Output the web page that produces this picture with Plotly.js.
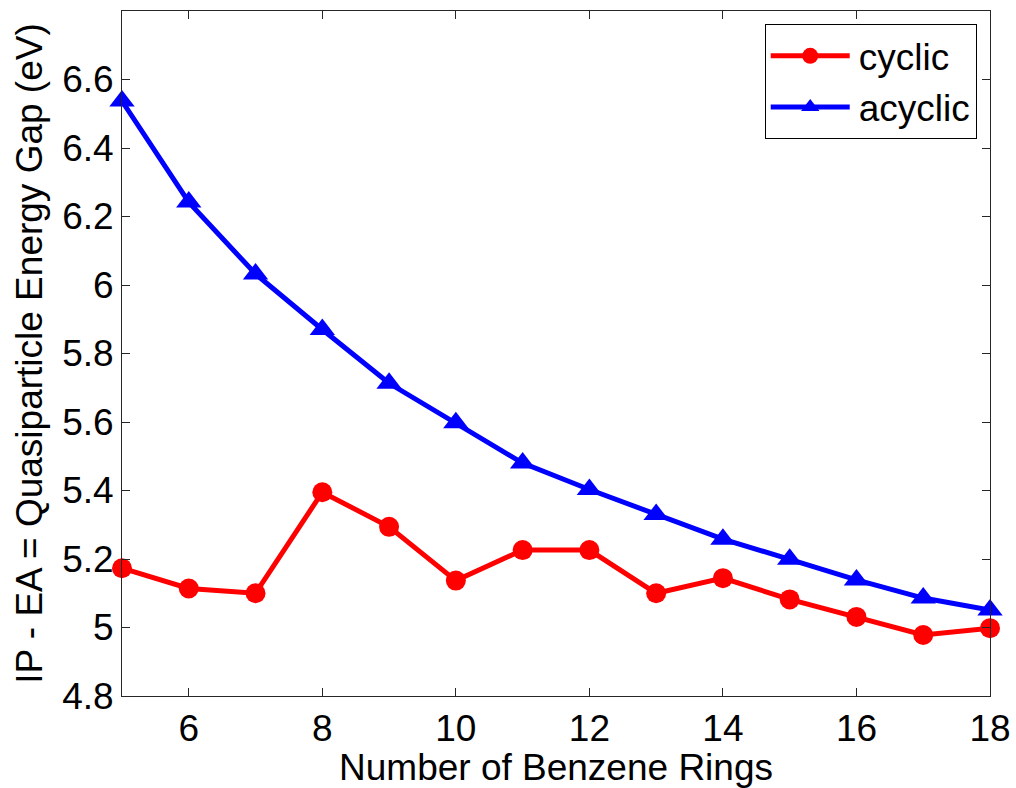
<!DOCTYPE html>
<html>
<head>
<meta charset="utf-8">
<script src="https://cdn.plot.ly/plotly-3.0.1.min.js"></script>
<style>html,body{margin:0;padding:0;background:#fff;}#chart{width:1016px;height:788px;}</style>
</head>
<body>
<div id="chart"></div>
<script>
const rings = [5, 6, 7, 8, 9, 10, 11, 12, 13, 14, 15, 16, 17, 18];
const cyclic = [5.173, 5.114, 5.100, 5.395, 5.294, 5.137, 5.226, 5.226, 5.100, 5.144, 5.082, 5.031, 4.978, 4.998];
const acyclic = [6.537, 6.242, 6.032, 5.870, 5.713, 5.598, 5.480, 5.403, 5.330, 5.258, 5.199, 5.139, 5.086, 5.051];
const xTickVals = [6, 8, 10, 12, 14, 16, 18];
const yTickVals = [4.8, 5.0, 5.2, 5.4, 5.6, 5.8, 6.0, 6.2, 6.4, 6.6];
const yTickText = ["4.8", "5", "5.2", "5.4", "5.6", "5.8", "6", "6.2", "6.4", "6.6"];

const FONT = "Liberation Sans, Arial, sans-serif";
const FS = 37;

const traces = [
  {
    x: rings, y: cyclic, name: "cyclic", type: "scatter", mode: "lines+markers",
    line: {color: "#FF0000", width: 5},
    marker: {symbol: "circle", size: 20, color: "#FF0000"},
    cliponaxis: false
  },
  {
    x: rings, y: acyclic, name: "acyclic", type: "scatter", mode: "lines+markers",
    line: {color: "#0000FF", width: 5},
    marker: {symbol: "triangle-up", size: 22, color: "#0000FF"},
    cliponaxis: false
  }
];

const axisCommon = {
  showgrid: false, zeroline: false,
  showline: true, linecolor: "#262626", linewidth: 1, mirror: "ticks",
  ticks: "inside", ticklen: 8, tickwidth: 1, tickcolor: "#262626",
  tickfont: {family: FONT, size: FS, color: "#000"}
};

const layout = {
  width: 1016, height: 788,
  margin: {l: 122, r: 26, t: 11, b: 92},
  paper_bgcolor: "#fff", plot_bgcolor: "#fff",
  font: {family: FONT, size: FS, color: "#000"},
  showlegend: true,
  legend: {
    x: 0.9847, y: 0.9806, xanchor: "right", yanchor: "top",
    bgcolor: "#fff", bordercolor: "#000", borderwidth: 1,
    font: {family: FONT, size: FS, color: "#000"},
    itemwidth: 83,
    tracegroupgap: 0
  },
  xaxis: Object.assign({}, axisCommon, {
    range: [5, 18], tickmode: "array", tickvals: xTickVals,
    title: {text: "Number of Benzene Rings", font: {family: FONT, size: FS, color: "#000"}, standoff: 4}
  }),
  yaxis: Object.assign({}, axisCommon, {
    range: [4.8, 6.8], tickmode: "array", tickvals: yTickVals, ticktext: yTickText,
    title: {text: "IP - EA = Quasiparticle Energy Gap (eV)", font: {family: FONT, size: FS, color: "#000"}, standoff: 8}
  })
};

Plotly.newPlot("chart", traces, layout, {displayModeBar: false, staticPlot: true}).then(function (gd) {
  // lengthen the legend line samples to look like MATLAB's legend
  gd.querySelectorAll(".legend .legendlines path").forEach(function (p) {
    p.setAttribute("d", "M5,0h79");
  });
  gd.querySelectorAll(".legend .legendpoints path").forEach(function (p) {
    p.setAttribute("transform", "translate(44.5,0)");
  });
});
</script>
</body>
</html>
